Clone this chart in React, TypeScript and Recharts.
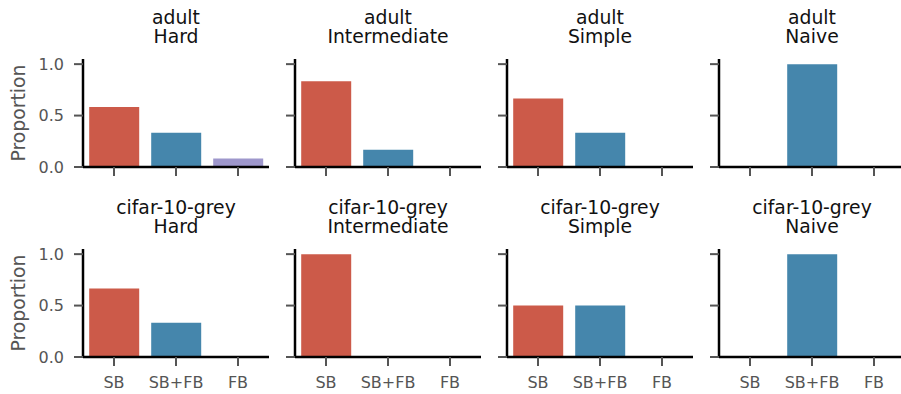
import React from 'react';
import { BarChart, Bar, XAxis, YAxis, Cell } from 'recharts';

const categories = ['SB', 'SB+FB', 'FB'];
const datasets = ['adult', 'cifar-10-grey'];
const difficulties = ['Hard', 'Intermediate', 'Simple', 'Naive'];
const adultValues = [
  [0.583, 0.333, 0.083],
  [0.833, 0.167, 0],
  [0.667, 0.333, 0],
  [0, 1, 0],
];
const cifarValues = [
  [0.667, 0.333, 0],
  [1, 0, 0],
  [0.5, 0.5, 0],
  [0, 1, 0],
];
const yTicks = [0, 0.5, 1.0];
const yLabel = 'Proportion';
const barColors = ['#cc5a49', '#4586ac', '#9e97cc'];

const FONT = '"DejaVu Sans", sans-serif';
const YW = 60;
const MT = 10;
const PW = 186;
const PH = 108;
const XH = 40;
const MR = 4;
const COL_X = 83;
const COL_STEP = 212;
const ROW_Y = 59;
const ROW_STEP = 190;

function Panel({ values, row, col }: { values: number[]; row: number; col: number }) {
  const data = categories.map((c, i) => ({ cat: c, value: values[i] }));
  const left = COL_X + COL_STEP * col - YW;
  const top = ROW_Y + ROW_STEP * row - MT;
  return (
    <div style={{ position: 'absolute', left, top }}>
      <BarChart
        width={YW + PW + MR}
        height={MT + PH + XH}
        data={data}
        margin={{ top: MT, right: MR, left: 0, bottom: 0 }}
        barCategoryGap="10%"
      >
        <XAxis
          dataKey="cat"
          height={XH}
          axisLine={{ stroke: '#000', strokeWidth: 2.5 }}
          tickLine={{ stroke: '#555', strokeWidth: 2 }}
          tickSize={9}
          tickMargin={11}
          interval={0}
          tick={{ fill: '#555', fontSize: 16 }}
          tickFormatter={(v: string) => (row === 1 ? v : '')}
        />
        <YAxis
          domain={[0, 1.05]}
          ticks={yTicks}
          interval={0}
          allowDataOverflow
          width={YW}
          tickFormatter={(v: number) => (col === 0 ? v.toFixed(1) : '')}
          axisLine={{ stroke: '#000', strokeWidth: 2.5 }}
          tickLine={{ stroke: '#555', strokeWidth: 2 }}
          tickSize={9}
          tickMargin={10}
          tick={{ fill: '#555', fontSize: 16 }}
        />
        <Bar dataKey="value" isAnimationActive={false}>
          {data.map((d, i) => (
            <Cell key={d.cat} fill={barColors[i]} />
          ))}
        </Bar>
      </BarChart>
    </div>
  );
}

export default function App() {
  const allValues = [adultValues, cifarValues];
  return (
    <div
      style={{
        position: 'absolute',
        left: 0,
        top: 0,
        width: 901,
        height: 394,
        overflow: 'hidden',
        background: '#fff',
        fontFamily: FONT,
      }}
    >
      {allValues.map((rowVals, r) =>
        rowVals.map((vals, c) => <Panel key={`${r}-${c}`} values={vals} row={r} col={c} />)
      )}
      <svg
        width={901}
        height={394}
        style={{ position: 'absolute', left: 0, top: 0, pointerEvents: 'none' }}
      >
        {datasets.map((ds, r) =>
          difficulties.map((df, c) => {
            const cx = COL_X + COL_STEP * c + PW / 2;
            return (
              <g key={`${r}-${c}`} fontFamily={FONT} fontSize={18.8} fill="#111" textAnchor="middle">
                <text x={cx} y={23.5 + ROW_STEP * r}>{ds}</text>
                <text x={cx} y={43 + ROW_STEP * r}>{df}</text>
              </g>
            );
          })
        )}
        {datasets.map((ds, r) => {
          const cy = ROW_Y + ROW_STEP * r + PH / 2;
          return (
            <text
              key={ds}
              x={25}
              y={cy}
              transform={`rotate(-90 25 ${cy})`}
              textAnchor="middle"
              fontFamily={FONT}
              fontSize={18.8}
              fill="#555"
            >
              {yLabel}
            </text>
          );
        })}
      </svg>
    </div>
  );
}
